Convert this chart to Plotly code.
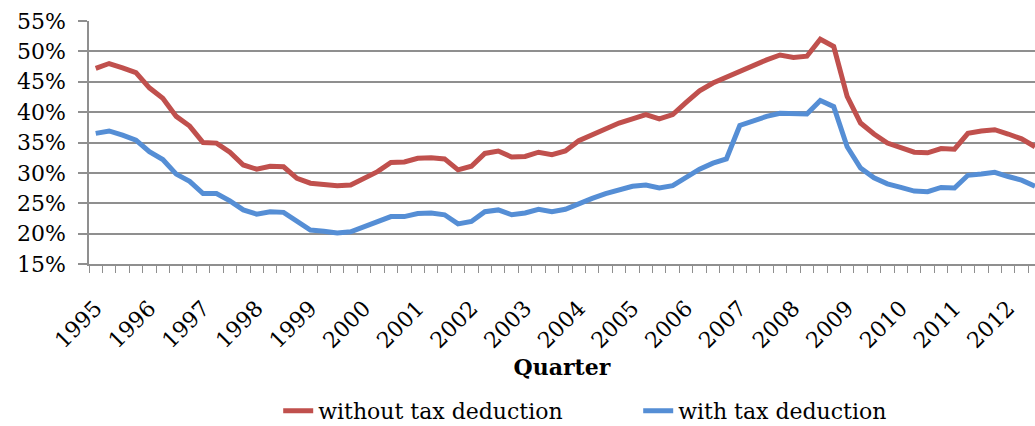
import plotly.graph_objects as go

years = [str(y) for y in range(1995, 2013)]
quarters = [f"{y} Q{q}" for y in range(1995, 2013) for q in range(1, 5)][:71]

without_tax = [47.2, 48.0, 47.3, 46.5, 44.0, 42.3, 39.3, 37.7, 35.0, 34.9,
               33.4, 31.3, 30.6, 31.1, 31.0, 29.1, 28.3, 28.0, 27.9, 28.0,
               29.1, 30.2, 31.7, 31.8, 32.4, 32.5, 32.3, 30.5, 31.1, 33.2,
               33.6, 32.6, 32.7, 33.4, 33.0, 33.6, 35.3, 36.3, 37.2, 38.2,
               38.9, 39.6, 38.9, 39.6, 41.6, 43.5, 44.8, 45.8, 46.6, 47.8,
               48.6, 49.4, 49.0, 49.2, 52.0, 50.8, 42.6, 38.2, 36.4, 34.9,
               34.2, 33.4, 33.3, 34.0, 33.9, 36.5, 36.9, 37.1, 36.4, 35.6,
               34.3]
with_tax = [36.5, 36.9, 36.2, 35.4, 33.5, 32.2, 29.8, 28.6, 26.6, 26.6,
            25.4, 23.9, 23.2, 23.6, 23.5, 22.0, 20.6, 20.4, 20.1, 20.3,
            21.2, 21.9, 22.8, 22.8, 23.3, 23.4, 23.1, 21.6, 22.0, 23.6,
            23.9, 23.1, 23.4, 24.0, 23.6, 24.0, 25.0, 25.8, 26.6, 27.3,
            27.8, 28.0, 27.5, 27.9, 29.3, 30.6, 31.6, 32.3, 37.8, 38.6,
            39.3, 39.8, 39.7, 39.7, 41.9, 40.9, 34.3, 30.8, 29.2, 28.2,
            27.6, 27.0, 26.9, 27.6, 27.5, 29.6, 29.8, 30.1, 29.4, 28.8,
            27.8]
y_ticks = [15, 20, 25, 30, 35, 40, 45, 50, 55]

x_idx = list(range(len(quarters)))
year_pos = [i for i, q in enumerate(quarters) if q.endswith("Q1")]
year_txt = [q[:4] for q in quarters if q.endswith("Q1")]

FONT = "DejaVu Serif"
GRID = "#8f8f8f"

fig = go.Figure()
fig.add_trace(go.Scatter(x=x_idx, y=without_tax, mode="lines", name="without tax deduction",
                         line=dict(color="#C0504D", width=5), text=quarters))
fig.add_trace(go.Scatter(x=x_idx, y=with_tax, mode="lines", name="with tax deduction",
                         line=dict(color="#558ED5", width=5), text=quarters))

fig.update_layout(
    width=1035, height=426, autosize=False,
    margin=dict(l=89, r=0, t=21, b=162, autoexpand=False),
    paper_bgcolor="white", plot_bgcolor="white",
    font=dict(family=FONT, size=22, color="black"),
    showlegend=True,
    legend=dict(orientation="h", x=0.2, xanchor="left", y=-0.605, yanchor="middle",
                font=dict(family=FONT, size=22), entrywidth=315, entrywidthmode="pixels",
                bgcolor="rgba(0,0,0,0)"),
    xaxis=dict(range=[-0.5, 70.0], tickmode="array", tickvals=year_pos, ticktext=year_txt,
               tickangle=-45, ticks="", showgrid=False, zeroline=False,
               showline=True, linecolor=GRID, linewidth=1.5, automargin=False,
               ticklabelstandoff=21,
               tickfont=dict(family=FONT, size=22),
               minor=dict(ticks="outside", tickmode="linear", tick0=-0.5, dtick=1,
                          ticklen=7, tickwidth=1.3, tickcolor=GRID, showgrid=False),
               title=dict(text="<b>Quarter</b>", font=dict(family=FONT, size=22), standoff=8)),
    yaxis=dict(range=[15, 55], tickmode="array", tickvals=y_ticks,
               ticktext=[f"{v}%" for v in y_ticks],
               showgrid=True, gridcolor=GRID, gridwidth=1.5, zeroline=False,
               showline=True, linecolor=GRID, linewidth=1.5, automargin=False,
               ticks="outside", ticklen=9, tickwidth=1.5, tickcolor=GRID,
               ticklabelstandoff=8, tickfont=dict(family=FONT, size=22)),
)

fig.write_html("out.html", config={"displayModeBar": False},
               post_script="document.body.style.margin='0';document.body.style.overflow='hidden';")
